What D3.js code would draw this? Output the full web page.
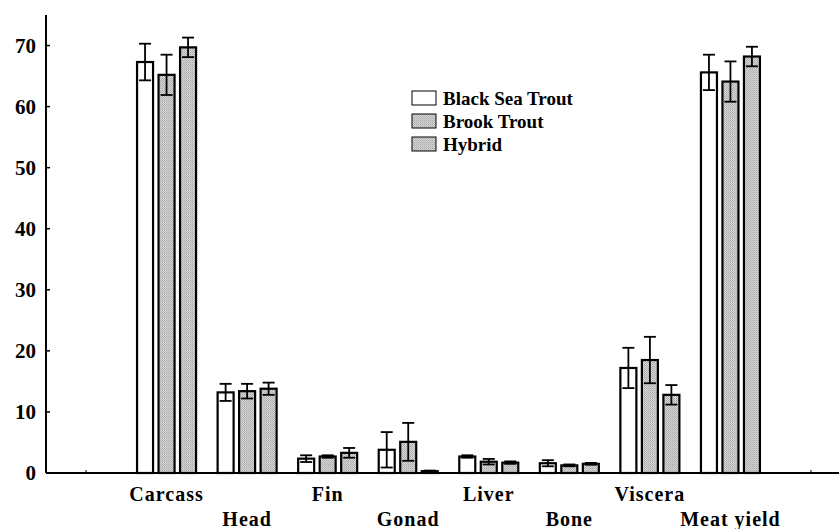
<!DOCTYPE html>
<html><head><meta charset="utf-8">
<script src="https://cdn.jsdelivr.net/npm/d3@7"></script>
<style>body{margin:0;background:#fff}</style>
</head><body>
<svg id="c" width="839" height="529"></svg>
<script>
const categories = ["Carcass","Head","Fin","Gonad","Liver","Bone","Viscera","Meat yield"];
const seriesNames = ["Black Sea Trout","Brook Trout","Hybrid"];
const blackSea = [67.3, 13.2, 2.35, 3.8, 2.7, 1.6, 17.2, 65.6];
const brook    = [65.2, 13.4, 2.7, 5.1, 1.85, 1.25, 18.5, 64.1];
const hybrid   = [69.7, 13.8, 3.3, 0.3, 1.7, 1.5, 12.8, 68.2];
const blackSeaErr = [3.0, 1.4, 0.55, 2.9, 0.2, 0.5, 3.3, 2.9];
const brookErr    = [3.3, 1.2, 0.2, 3.1, 0.45, 0.15, 3.8, 3.3];
const hybridErr   = [1.6, 1.0, 0.8, 0.1, 0.2, 0.15, 1.6, 1.6];
const yTicks = [0,10,20,30,40,50,60,70];

const values = [blackSea, brook, hybrid];
const errs = [blackSeaErr, brookErr, hybridErr];

const svg = d3.select("#c");
const defs = svg.append("defs");
const pat = defs.append("pattern").attr("id","dots").attr("width",2).attr("height",2).attr("patternUnits","userSpaceOnUse");
pat.append("rect").attr("width",2).attr("height",2).attr("fill","#d6d6d6");
pat.append("rect").attr("width",1).attr("height",1).attr("fill","#a8a8a8");
pat.append("rect").attr("x",1).attr("y",1).attr("width",1).attr("height",1).attr("fill","#b8b8b8");
const fills = ["#fff","url(#dots)","url(#dots)"];

const x = d3.scaleLinear().domain([0,9]).range([86,811]);
const y = d3.scaleLinear().domain([0,75]).range([473,15]);
const axisX0 = 46;
const font = "'Liberation Serif','Times New Roman',serif";

// y axis
svg.append("line").attr("x1",axisX0).attr("x2",axisX0).attr("y1",y(75)).attr("y2",y(0)).attr("stroke","#000").attr("stroke-width",2);
const ya = svg.append("g");
yTicks.forEach(t=>{
  ya.append("line").attr("x1",axisX0).attr("x2",axisX0+4).attr("y1",y(t)).attr("y2",y(t)).attr("stroke","#000").attr("stroke-width",1.5);
  ya.append("text").attr("x",36).attr("y",y(t)).attr("dy","0.35em").attr("text-anchor","end")
    .attr("font-family",font).attr("font-weight","bold").attr("font-size",21).text(t);
});
// x axis
svg.append("line").attr("x1",axisX0).attr("x2",839).attr("y1",y(0)).attr("y2",y(0)).attr("stroke","#000").attr("stroke-width",2);
[0,9].forEach(v=>svg.append("line").attr("x1",x(v)).attr("x2",x(v)).attr("y1",y(0)).attr("y2",y(0)-3).attr("stroke","#000").attr("stroke-width",1));

const bw = 16, off = 21.5;
categories.forEach((c,i)=>{
  const cx = x(i+1);
  values.forEach((vals,s)=>{
    const bx = cx + (s-1)*off;
    const v = vals[i], e = errs[s][i];
    svg.append("rect").attr("x",bx-bw/2).attr("y",y(v)).attr("width",bw).attr("height",y(0)-y(v))
      .attr("fill",fills[s]).attr("stroke","#000").attr("stroke-width",2.2);
    const g = svg.append("g").attr("stroke","#000").attr("stroke-width",1.8);
    g.append("line").attr("x1",bx).attr("x2",bx).attr("y1",y(v+e)).attr("y2",y(Math.max(0,v-e)));
    g.append("line").attr("x1",bx-6).attr("x2",bx+6).attr("y1",y(v+e)).attr("y2",y(v+e));
    g.append("line").attr("x1",bx-6).attr("x2",bx+6).attr("y1",y(Math.max(0,v-e))).attr("y2",y(Math.max(0,v-e)));
  });
  svg.append("text").attr("x",cx).attr("y", i%2===0 ? 501 : 526).attr("text-anchor","middle")
    .attr("font-family",font).attr("font-weight","bold").attr("font-size",20).attr("letter-spacing",1).text(c);
});

// legend
seriesNames.forEach((n,s)=>{
  const top = 91 + s*23;
  svg.append("rect").attr("x",412).attr("y",top).attr("width",24).attr("height",14)
    .attr("fill",fills[s]).attr("stroke","#000").attr("stroke-width",1);
  svg.append("text").attr("x",443).attr("y",top+14)
    .attr("font-family",font).attr("font-weight","bold").attr("font-size",19).text(n);
});
</script>
</body></html>
